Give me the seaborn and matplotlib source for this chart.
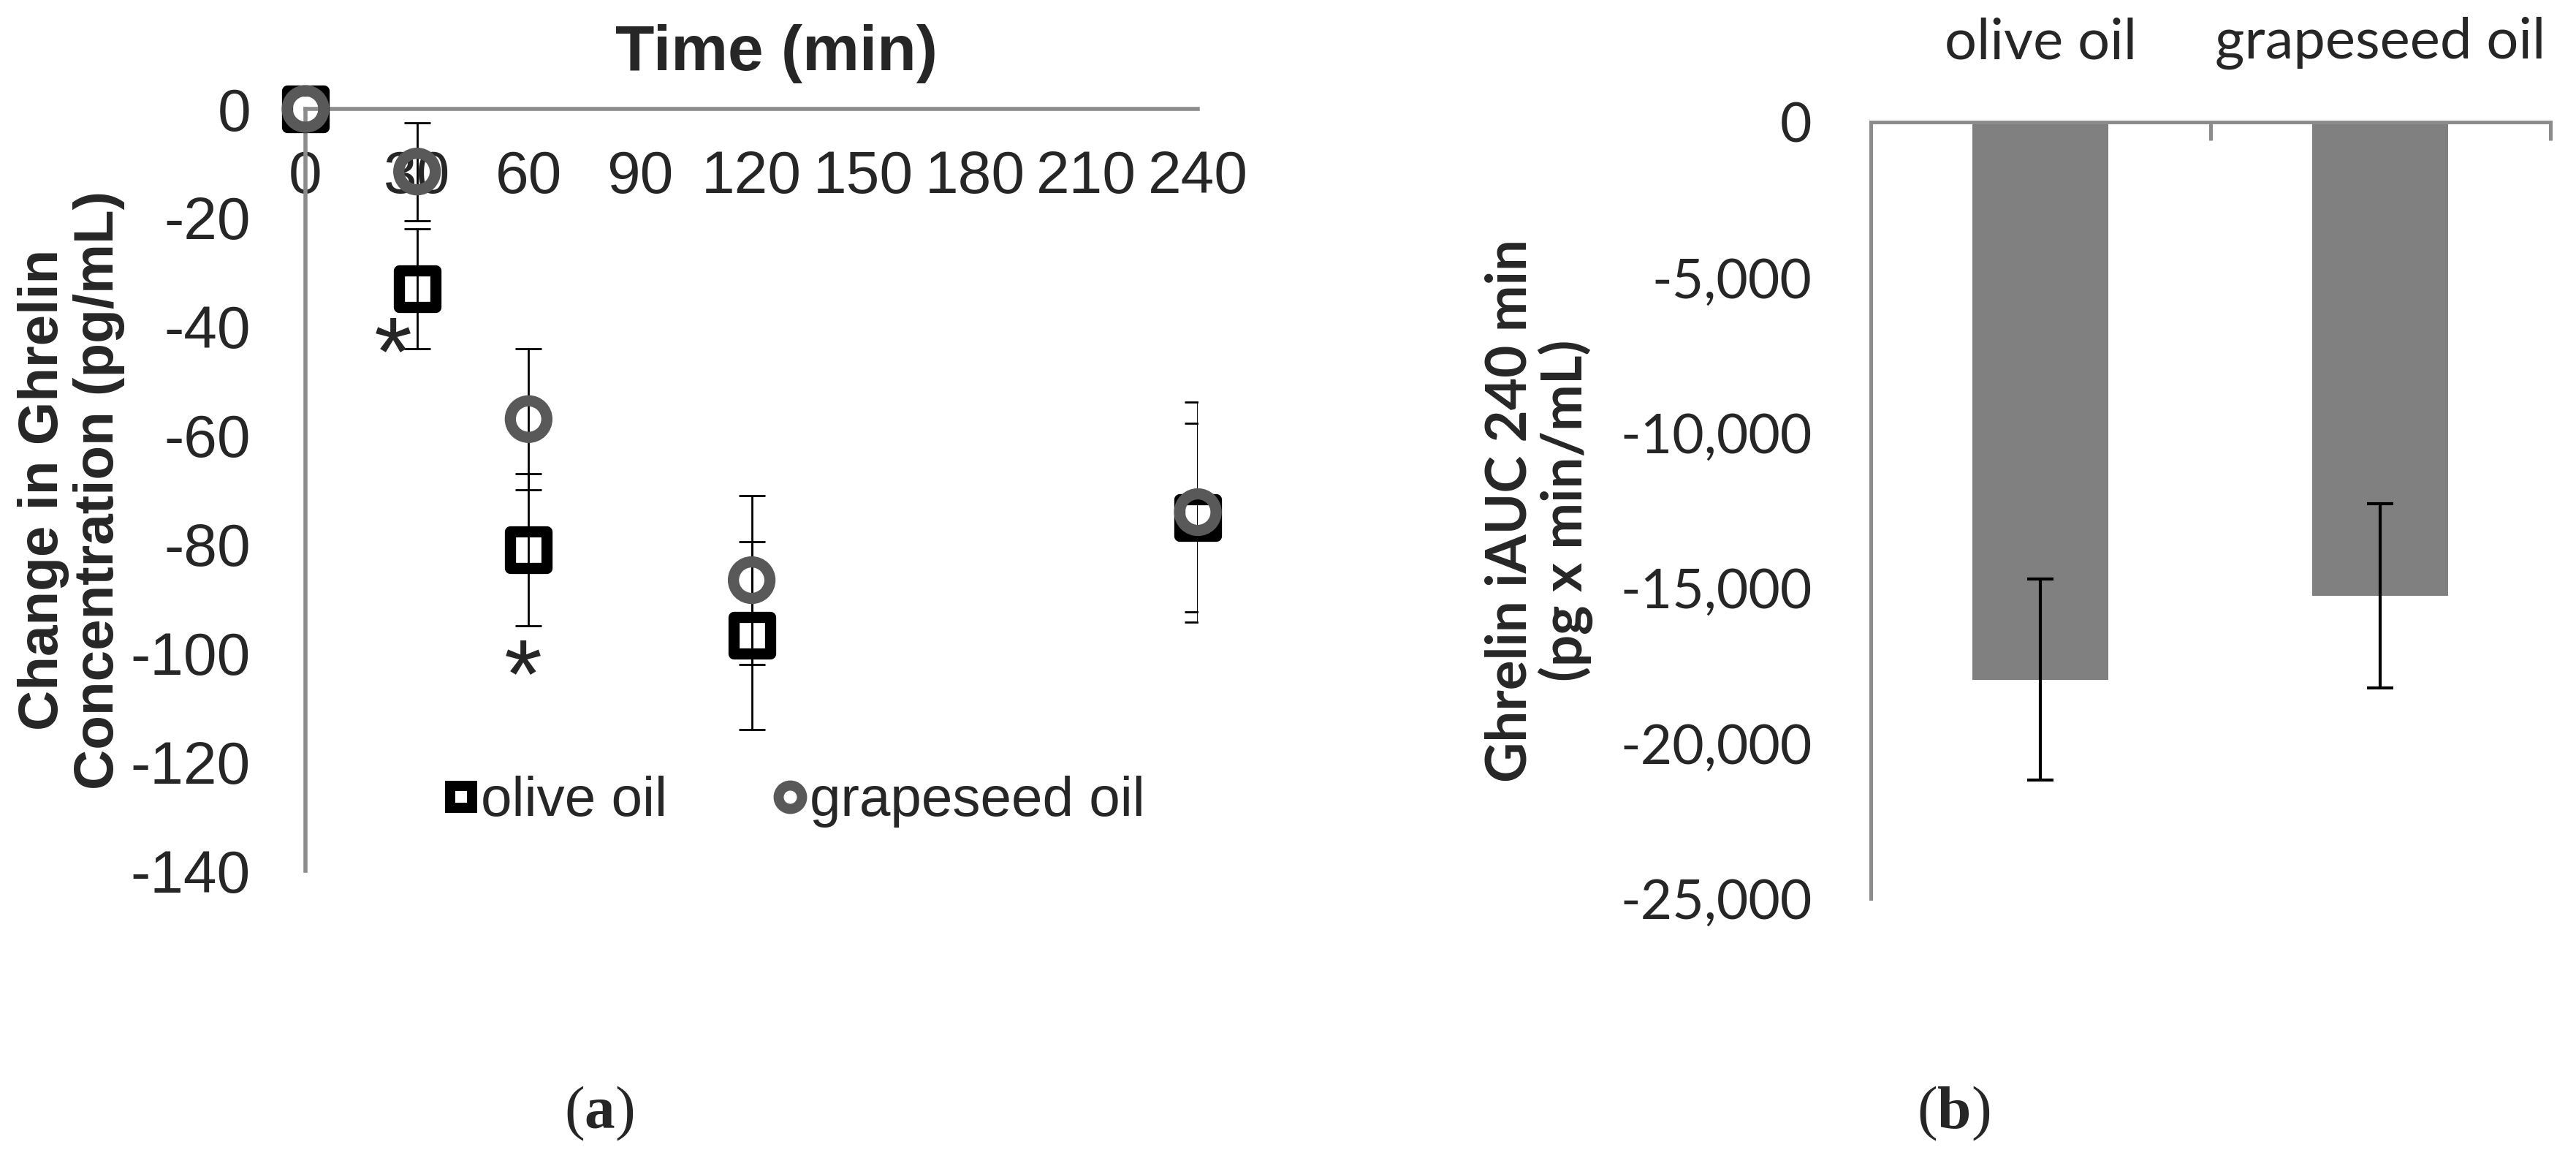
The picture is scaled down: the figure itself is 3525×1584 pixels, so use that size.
import numpy as np
import pandas as pd
import seaborn as sns
import matplotlib.pyplot as plt
from matplotlib.lines import Line2D
from matplotlib.ticker import StrMethodFormatter

# (a) change in ghrelin over time, mean and SE
time_min = [0, 30, 60, 120, 240]
olive_mean = [0, -33, -81, -96.8, -75.1]
olive_se = [0, 11, 14, 17.3, 17.3]
grape_mean = [0, -11.5, -57, -86.6, -74.1]
grape_se = [0, 9, 13, 15.5, 20.2]
x_ticks = [0, 30, 60, 90, 120, 150, 180, 210, 240]
y_ticks = [0, -20, -40, -60, -80, -100, -120, -140]

# (b) iAUC 240 min
oils = ['olive oil', 'grapeseed oil']
iauc_mean = [-17950, -15250]
iauc_se = [3240, 2970]
iauc_ticks = [0, -5000, -10000, -15000, -20000, -25000]

sns.set_style('white')
plt.rcParams['font.family'] = ['Liberation Sans', 'DejaVu Sans']
plt.rcParams['axes.unicode_minus'] = False
plt.rcParams['mathtext.fontset'] = 'custom'
plt.rcParams['mathtext.rm'] = 'Liberation Serif'
plt.rcParams['mathtext.bf'] = 'Liberation Serif:bold'

AX_GREY = '#8c8c8c'
CIRC_GREY = '#595959'

fig = plt.figure(figsize=(35.25, 15.84), dpi=100)

# ---------- panel (a) ----------
ax = fig.add_axes([0.1186, 0.2481, 0.3464, 0.6578])

ax.errorbar(time_min, olive_mean, yerr=olive_se, fmt='none', ecolor='black',
            elinewidth=2, capsize=13, capthick=2, zorder=2)
ax.errorbar(time_min, grape_mean, yerr=grape_se, fmt='none', ecolor='black',
            elinewidth=2, capsize=13, capthick=2, zorder=2)

df_a = pd.DataFrame({'time': time_min, 'olive': olive_mean, 'grape': grape_mean})
sns.scatterplot(data=df_a, x='time', y='olive', marker='s', s=36 ** 2,
                facecolor='none', edgecolor='black', linewidth=11,
                ax=ax, zorder=3, clip_on=False)
sns.scatterplot(data=df_a, x='time', y='grape', marker='o', s=36 ** 2,
                facecolor='none', edgecolor=CIRC_GREY, linewidth=11,
                ax=ax, zorder=4, clip_on=False)
for coll, ec in zip(ax.collections[-2:], ['black', CIRC_GREY]):
    coll.set_facecolor('none')
    coll.set_edgecolor(ec)
    coll.set_linewidth(11)
    coll.set_joinstyle('round')

ax.set_xlim(0, 240)
ax.set_ylim(-140, 0)
ax.set_xticks(x_ticks)
ax.set_yticks(y_ticks)
ax.spines['bottom'].set_position(('data', 0))
ax.spines['top'].set_visible(False)
ax.spines['right'].set_visible(False)
for side in ['bottom', 'left']:
    ax.spines[side].set_color(AX_GREY)
    ax.spines[side].set_linewidth(4)
ax.tick_params(axis='x', direction='out', length=16, width=4, color=AX_GREY,
               labelsize=59, pad=24)
ax.tick_params(axis='y', direction='out', length=17, width=4, color=AX_GREY,
               labelsize=59, pad=37)
ax.set_xlabel('')
ax.set_ylabel('')

# significance marks
ax.text(23.5, -46, '*', fontsize=96, ha='center', va='center')
ax.text(58.6, -105.3, '*', fontsize=96, ha='center', va='center')

fig.text(0.3013, 0.9533, 'Time (min)', fontsize=63, fontweight='bold',
         ha='center', va='center')
fig.text(0.0277, 0.577, 'Change in Ghrelin\nConcentration (pg/mL)', fontsize=55,
         fontweight='bold', rotation=90, ha='center', va='center',
         multialignment='center', linespacing=1.1)

handles = [
    Line2D([], [], marker='s', linestyle='none', markersize=22,
           markerfacecolor='none', markeredgecolor='black', markeredgewidth=10),
    Line2D([], [], marker='o', linestyle='none', markersize=23,
           markerfacecolor='none', markeredgecolor=CIRC_GREY, markeredgewidth=10),
]
leg = fig.legend(handles, ['olive oil', 'grapeseed oil'], loc='center',
                 bbox_to_anchor=(0.3085, 0.3075), ncol=2, frameon=False,
                 fontsize=55, handlelength=0.6, handletextpad=0.05,
                 columnspacing=1.9, borderpad=0)

# ---------- panel (b) ----------
ax2 = fig.add_axes([0.7262, 0.2241, 0.2638, 0.6705])
df_b = pd.DataFrame({'oil': oils, 'iauc': iauc_mean})
sns.barplot(data=df_b, x='oil', y='iauc', color='#808080', saturation=1,
            width=0.4, errorbar=None, linewidth=0, ax=ax2, zorder=2)
ax2.errorbar(range(len(oils)), iauc_mean, yerr=iauc_se, fmt='none',
             ecolor='black', elinewidth=3, capsize=13, capthick=3, zorder=3)

ax2.set_xlim(-0.5, 1.5)
ax2.set_ylim(-25000, 0)
ax2.set_yticks(iauc_ticks)
ax2.yaxis.set_major_formatter(StrMethodFormatter('{x:,.0f}'))
ax2.xaxis.tick_top()
ax2.set_xticks([-0.5, 0.5, 1.5], minor=True)
ax2.spines['bottom'].set_visible(False)
ax2.spines['right'].set_visible(False)
for side in ['top', 'left']:
    ax2.spines[side].set_color(AX_GREY)
    ax2.spines[side].set_linewidth(3.6)
ax2.tick_params(axis='x', which='major', length=0, labelsize=56, pad=52,
                labelfontfamily='Lato')
ax2.tick_params(axis='x', which='minor', direction='in', length=18, width=3.6,
                color=AX_GREY)
ax2.tick_params(axis='y', direction='out', length=19, width=3.6, color=AX_GREY,
                labelsize=54, pad=39, labelfontfamily='Lato')
ax2.set_xlabel('')
ax2.set_ylabel('')

fig.text(0.5974, 0.5593, 'Ghrelin iAUC 240 min\n(pg x min/mL)', fontsize=55,
         fontweight='bold', family='Lato', rotation=90, ha='center',
         va='center', multialignment='center', linespacing=1.05)

# panel letters
fig.text(0.2326, 0.038, r'$\mathrm{(}\mathbf{a}\mathrm{)}$', fontsize=60,
         ha='center', va='center')
fig.text(0.7583, 0.038, r'$\mathrm{(}\mathbf{b}\mathrm{)}$', fontsize=60,
         ha='center', va='center')

fig.savefig('out.png', dpi=100)
